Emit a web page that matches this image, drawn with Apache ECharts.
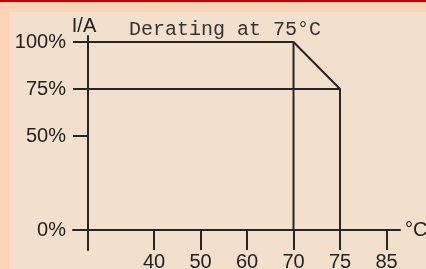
<!DOCTYPE html>
<html>
<head>
<meta charset="utf-8">
<script src="https://cdn.jsdelivr.net/npm/echarts@6/dist/echarts.min.js"></script>
<style>
  html, body { margin: 0; padding: 0; }
  #frame { position: relative; width: 426px; height: 269px; background: #fcd4b7; border-top: 2px solid #c80000; box-sizing: border-box; overflow: hidden; }
  #panel { position: absolute; left: 9px; top: 10px; right: 0; bottom: 0; background: #f2e0cd; }
  #chart { position: absolute; left: 0; top: -2px; width: 426px; height: 269px; }
</style>
</head>
<body>
<div id="frame"><div id="panel"></div><div id="chart"></div></div>
<script>
// temperature ticks (drawn evenly spaced, as in the original sketch)
var tempTicks = [40, 50, 60, 70, 75, 85];
// current ticks, percent of rated
var currentTicks = [0, 50, 75, 100];

// derating curve: full current up to 70 °C, falling to 75 % at 75 °C
var curveTemp = [70, 75, 75];
var curveCurrent = [100, 75, 0];
var ratedCurrent = 100;
var deratedCurrent = 75;
var deratingStart = 70;
var deratingEnd = 75;

var myChart = echarts.init(document.getElementById('chart'));

// ticks are evenly spaced; the I axis sits left of the first tick
var tickOffset = 66 / 46.5;
function xPos(t) {
    return tickOffset + tempTicks.indexOf(t);
}
var tickPositions = tempTicks.map(xPos);

var lineColor = '#262626';
var labelFont = "'Liberation Sans', Arial, sans-serif";

var curveData = [[0, ratedCurrent]];
curveTemp.forEach(function (t, i) {
    curveData.push([xPos(t), curveCurrent[i]]);
});

function guide(data) {
    return {
        type: 'line',
        data: data,
        symbol: 'none',
        silent: true,
        lineStyle: { color: lineColor, width: 2 }
    };
}

myChart.setOption({
    animation: false,
    title: {
        text: 'Derating at 75°C',
        left: 124,
        top: 15,
        textStyle: {
            fontFamily: "'Courier New', 'Liberation Mono', monospace",
            fontSize: 20,
            fontWeight: 'normal',
            color: '#333'
        }
    },
    grid: { left: 73, right: 26, top: 36, bottom: 19, outerBoundsMode: 'none' },
    xAxis: {
        type: 'value',
        min: -15 / 46.5,
        max: 312 / 46.5,
        name: '°C',
        nameGap: 5,
        nameTextStyle: { fontSize: 20, fontFamily: labelFont, color: '#222' },
        splitLine: { show: false },
        axisLine: { lineStyle: { color: lineColor, width: 2 } },
        axisTick: {
            customValues: tickPositions,
            length: 20,
            lineStyle: { color: lineColor, width: 2 }
        },
        axisLabel: {
            customValues: tickPositions,
            margin: 2,
            fontSize: 20,
            fontFamily: labelFont,
            color: '#222',
            formatter: function (v) {
                return String(tempTicks[Math.round(v - tickOffset)]);
            }
        }
    },
    yAxis: {
        type: 'value',
        min: -20 / 1.88,
        max: 194 / 1.88,
        name: 'I/A',
        nameGap: 0,
        nameMoveOverlap: false,
        nameTextStyle: { fontSize: 20, fontFamily: labelFont, color: '#222', padding: [0, 8, 0, 0] },
        splitLine: { show: false },
        axisLine: { onZero: true, lineStyle: { color: lineColor, width: 2 } },
        axisTick: {
            customValues: currentTicks,
            length: 15,
            lineStyle: { color: lineColor, width: 2 }
        },
        axisLabel: {
            customValues: currentTicks,
            margin: 7,
            fontSize: 20,
            fontFamily: labelFont,
            color: '#222',
            formatter: '{value}%'
        }
    },
    series: [
        guide(curveData),
        guide([[xPos(deratingStart), ratedCurrent], [xPos(deratingStart), 0]]),
        guide([[0, deratedCurrent], [xPos(deratingEnd), deratedCurrent]])
    ]
});
</script>
</body>
</html>
